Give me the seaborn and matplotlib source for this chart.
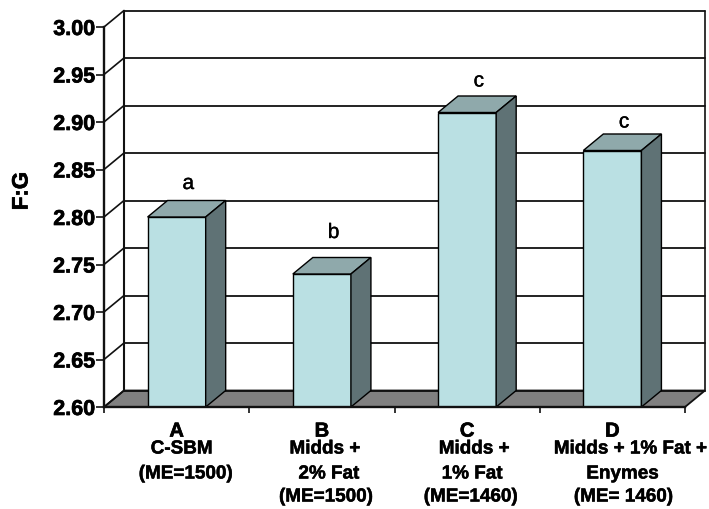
import matplotlib
matplotlib.use("Agg")
import matplotlib.pyplot as plt
import matplotlib.patheffects as pe
import seaborn as sns
import pandas as pd
from matplotlib.patches import Polygon

sns.set_theme(style="white")
plt.rcParams['font.family'] = ['Liberation Sans', 'DejaVu Sans']

letters = ["A", "B", "C", "D"]
bodies = [["C-SBM", "(ME=1500)"],
          ["Midds +", "2% Fat", "(ME=1500)"],
          ["Midds +", "1% Fat", "(ME=1460)"],
          ["Midds + 1% Fat +", "Enymes", "(ME= 1460)"]]
values = [2.80, 2.74, 2.91, 2.87]
sig = ["a", "b", "c", "c"]
yticks = [2.60, 2.65, 2.70, 2.75, 2.80, 2.85, 2.90, 2.95, 3.00]

# layout (pixels)
W, H = 709, 510
L, R, T, B = 104, 685, 28, 408
sig_dy = [17, 25, 15, 12]          # gap of the significance letter above the bar's back edge
body_dx = [[5, 9], [3, 7, 4], [7, 5, 3.5], [18, 10, 11]]  # line shifts from tick centre
body_y = [450, 475, 498]

fig = plt.figure(figsize=(W/100, H/100), dpi=100, facecolor="white")
ax = fig.add_axes([L/W, 1-B/H, (R-L)/W, (B-T)/H])
df = pd.DataFrame({"cat": letters, "val": values})
sns.barplot(data=df, x="cat", y="val", color="#BAE0E3", saturation=1, width=0.4,
            edgecolor="black", linewidth=1.0, ax=ax, zorder=5)
ax.set_xlim(-0.5, 3.5)
ax.set_ylim(2.6, 3.0)
dx = 20/((R-L)/4)
dy = 16.5/((B-T)/0.4)
lk = "#111111"
heavy = [pe.withStroke(linewidth=0.5, foreground="black")]
px = 0.72

ax.add_patch(Polygon([(-0.5, 2.6), (3.5, 2.6), (3.5+dx, 2.6+dy), (-0.5+dx, 2.6+dy)],
                     fc="#808080", ec=lk, lw=1.3, clip_on=False, zorder=1))
for y in yticks:
    ax.plot([-0.5, -0.5+dx], [y, y+dy], color=lk, lw=1.2, clip_on=False, zorder=2)
    ax.plot([-0.5+dx, 3.5+dx], [y+dy, y+dy], color=lk, lw=1.3, clip_on=False, zorder=2)
ax.plot([-0.5+dx]*2, [2.6+dy, 3.0+dy], color=lk, lw=1.5, clip_on=False, zorder=2)
ax.plot([3.5+dx]*2, [2.6+dy, 3.0+dy], color=lk, lw=1.2, clip_on=False, zorder=2)

for p, s, g in zip(list(ax.patches[:4]), sig, sig_dy):
    x0, x1 = p.get_x(), p.get_x()+p.get_width()
    v = p.get_height()
    ax.add_patch(Polygon([(x0, v), (x1, v), (x1+dx, v+dy), (x0+dx, v+dy)],
                         fc="#8FA9AB", ec="black", lw=1.0, clip_on=False, zorder=6))
    ax.add_patch(Polygon([(x1, 2.6), (x1+dx, 2.6+dy), (x1+dx, v+dy), (x1, v)],
                         fc="#5F7275", ec="black", lw=1.0, clip_on=False, zorder=6))
    ax.annotate(s, xy=((x0+x1)/2+dx/2, v+dy), xytext=(1.2, g*px), textcoords="offset points",
                ha="center", va="center", fontsize=15, color="black", zorder=7,
                path_effects=[pe.withStroke(linewidth=0.25, foreground="black")])

for sp in ["top", "right"]:
    ax.spines[sp].set_visible(False)
for sp in ["left", "bottom"]:
    ax.spines[sp].set_linewidth(1.7)
    ax.spines[sp].set_color(lk)
    ax.spines[sp].set_zorder(8)

ax.set_yticks(yticks)
ax.set_yticklabels([f"{t:.2f}" for t in yticks], fontsize=15.5, fontweight="bold", color="black",
                   path_effects=heavy)
ax.tick_params(axis="y", left=True, length=5.5, width=1.2, color=lk, pad=0.8)
ax.set_xticks([-0.5, 0.5, 1.5, 2.5, 3.5], minor=True)
ax.tick_params(axis="x", which="minor", bottom=True, length=4.5, width=1.2, color=lk)
ax.set_xticks(range(4))
ax.set_xticklabels(letters, fontsize=14.5, fontweight="bold", color="black", path_effects=heavy)
ax.tick_params(axis="x", which="major", bottom=False, length=0, pad=10.5)
ax.set_xlabel("")
ax.set_ylabel("")
fig.text(22/W, 1-192/H, "F:G", rotation=90, ha="center", va="center",
         fontsize=16, fontweight="bold", color="black", path_effects=heavy)

for i, lines in enumerate(bodies):
    for line, ypx, off in zip(lines, body_y, body_dx[i]):
        ax.annotate(line, xy=(i, 2.6), xycoords="data", xytext=(off*px, -(ypx-B)*px),
                    textcoords="offset points", ha="center", va="center", fontsize=13.6,
                    fontweight="bold", color="black", annotation_clip=False,
                    path_effects=[pe.withStroke(linewidth=0.35, foreground="black")])

fig.savefig("out.png", dpi=100)
